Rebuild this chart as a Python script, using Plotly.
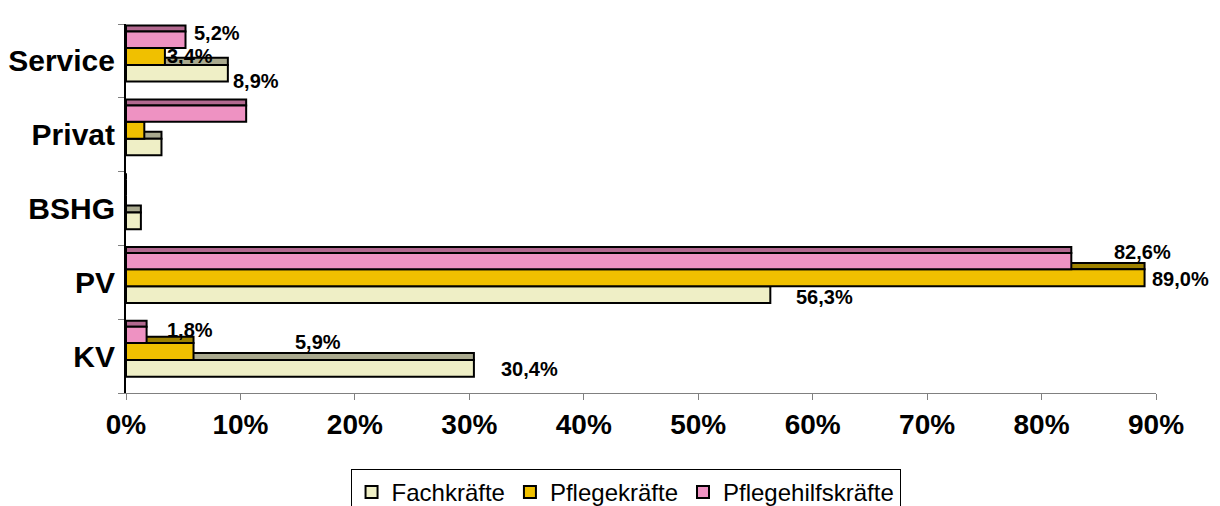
import plotly.graph_objects as go

# ---- data ----
categories = ["KV", "PV", "BSHG", "Privat", "Service"]  # bottom to top
series_names = ["Fachkräfte", "Pflegekräfte", "Pflegehilfskräfte"]
fachkraefte = [30.4, 56.3, 1.3, 3.1, 8.9]
pflegekraefte = [5.9, 89.0, 0.0, 1.6, 3.4]
pflegehilfskraefte = [1.8, 82.6, 0.0, 10.5, 5.2]
x_ticks = [0, 10, 20, 30, 40, 50, 60, 70, 80, 90]
x_tick_labels = [f"{t}%" for t in x_ticks]
# which values carry a data label (category, series index)
labelled = [("Service", 2), ("Service", 1), ("Service", 0),
            ("PV", 2), ("PV", 1), ("PV", 0),
            ("KV", 2), ("KV", 1), ("KV", 0)]
title_text = "Berufsgruppe"

values = [fachkraefte, pflegekraefte, pflegehilfskraefte]

# ---- styles ----
FONT = "Liberation Sans, Arial, sans-serif"
front_colors = ["#EFEFC6", "#F0C000", "#EE92C2"]
top_colors = ["#A9A98E", "#9E8200", "#B2688F"]
# offsets / widths in category units (front face, top face)
front_geom = [(-0.280, 0.226), (-0.054, 0.230), (0.176, 0.221)]
top_geom = [(-0.054, 0.095), (0.176, 0.086), (0.397, 0.081)]
# label pixel shifts (xshift, yshift) for each labelled bar
label_shifts = {
    ("Service", 2): (6, 28), ("Service", 1): (0, 5), ("Service", 0): (3, -20),
    ("PV", 2): (41, 30), ("PV", 1): (5, 3), ("PV", 0): (24, -15),
    ("KV", 2): (18, 26), ("KV", 1): (99, 14), ("KV", 0): (25, -13),
}

fig = go.Figure()
for i, name in enumerate(series_names):
    off_t, w_t = top_geom[i]
    fig.add_trace(go.Bar(
        y=categories, x=values[i], orientation="h", name=name,
        offset=off_t, width=w_t, showlegend=False, hoverinfo="skip",
        marker=dict(color=top_colors[i], line=dict(color="black", width=2)),
    ))
    off_f, w_f = front_geom[i]
    fig.add_trace(go.Bar(
        y=categories, x=values[i], orientation="h", name=name,
        offset=off_f, width=w_f, showlegend=True, hoverinfo="skip",
        marker=dict(color=front_colors[i], line=dict(color="black", width=2)),
    ))

annotations = []
for cat, si in labelled:
    v = values[si][categories.index(cat)]
    xs, ys = label_shifts[(cat, si)]
    annotations.append(dict(
        x=v, y=cat, xref="x", yref="y", xanchor="left", yanchor="middle",
        text=f"{v:.1f}".replace(".", ",") + "%", showarrow=False,
        xshift=xs, yshift=ys,
        font=dict(family=FONT, size=20, color="black", weight="bold"),
    ))

# clipped chart title (only the descenders show at the very top)
annotations.append(dict(
    x=0.506, y=1.046, xref="paper", yref="paper", xanchor="center",
    yanchor="bottom", text=title_text, showarrow=False, borderpad=0,
    font=dict(family=FONT, size=24, color="black", weight="bold"),
))

fig.update_layout(
    width=1220, height=506,
    margin=dict(l=118, r=72, t=16, b=121, autoexpand=False),
    barmode="overlay",
    plot_bgcolor="white", paper_bgcolor="white",
    font=dict(family=FONT, color="black"),
    annotations=annotations,
    legend=dict(
        orientation="h", x=0.485, xanchor="center", y=-0.206, yanchor="top",
        bordercolor="black", borderwidth=1, bgcolor="white",
        traceorder="normal", itemwidth=30,
        font=dict(family=FONT, size=24, color="black"),
    ),
)
fig.update_xaxes(
    range=[0, 90], tickvals=x_ticks, ticktext=x_tick_labels,
    automargin=False,
    showgrid=False, zeroline=False, showline=True, linecolor="#808080",
    linewidth=1, ticks="outside", ticklen=6, tickcolor="#808080",
    tickfont=dict(family=FONT, size=28, color="black", weight="bold"),
)
fig.update_yaxes(
    type="category", categoryorder="array", categoryarray=categories,
    range=[-0.5, 4.5], tickson="boundaries", ticks="outside", ticklen=6,
    automargin=False, ticklabelstandoff=3,
    tickcolor="#808080", showgrid=False, zeroline=False, showline=True,
    linecolor="black", linewidth=2,
    tickfont=dict(family=FONT, size=30, color="black", weight="bold"),
)

fig.write_html("out.html")
